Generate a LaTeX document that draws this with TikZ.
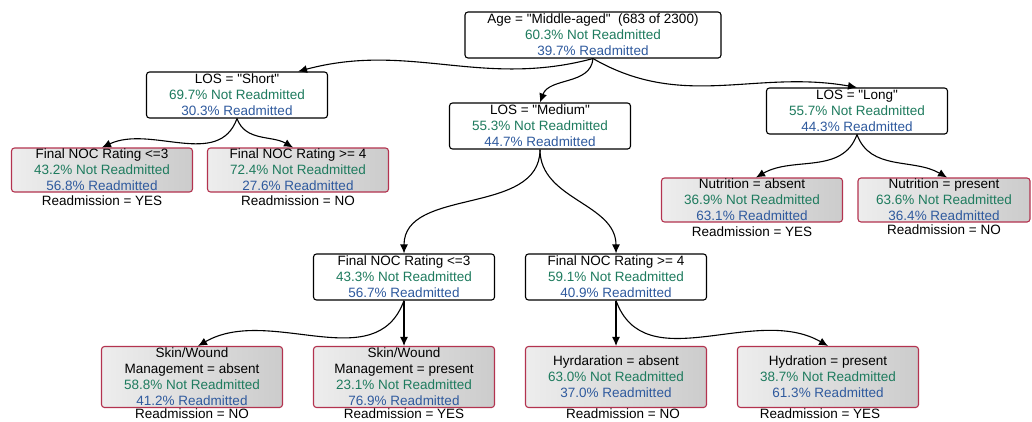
\documentclass[tikz,border=0pt]{standalone}
\usepackage{fontspec}
\setmainfont{Liberation Sans}[Ligatures=TeXOff]
\usetikzlibrary{arrows.meta}
\definecolor{notgreen}{HTML}{1E7B5E}
\definecolor{reblue}{HTML}{2F5A9E}
\definecolor{leafred}{HTML}{B3334F}
\newcommand{\notRe}[1]{\textcolor{notgreen}{#1\% Not Readmitted}}
\newcommand{\yesRe}[1]{\textcolor{reblue}{#1\% Readmitted}}
\tikzset{
  split/.style={draw=black, line width=1.1pt, fill=white, rounded corners=3pt, minimum width=181pt, minimum height=46pt, inner sep=0pt, align=center, font=\fontsize{13.5}{16}\selectfont},
  leaf/.style={split, draw=leafred, left color=gray!14, right color=gray!40, minimum height=44pt},
  verdict/.style={inner sep=0pt, font=\fontsize{13.5}{16}\selectfont},
  branch/.style={black, line width=1.1pt, -{Latex[length=9pt,width=8pt]}}
}
\begin{document}
\begin{tikzpicture}[x=1pt, y=-1pt]
        \useasboundingbox (0,0) rectangle (1032,421);
        %%-root and first split
        \node[split, minimum width=256pt] (root) at (593,35) {Age = "Middle-aged"\ \ (683 of 2300)\\ \notRe{60.3}\\ \yesRe{39.7}};
        \node[split] (short) at (237,95) {LOS = "Short"\\ \notRe{69.7}\\ \yesRe{30.3}};
        \node[split] (medium) at (540,126) {LOS = "Medium"\\ \notRe{55.3}\\ \yesRe{44.7}};
        \node[split] (long) at (857,111) {LOS = "Long"\\ \notRe{55.7}\\ \yesRe{44.3}};

        \draw[branch] (root.south) to[out=195, in=15] ([xshift=-30pt]short.north east);
        \draw[branch] (root.south) to[out=-95, in=70] (medium.north);
        \draw[branch] (root.south) to[out=-30, in=170] (long.north);

        %%-Short
        \node[leaf] (nocsa) at (102,170) {Final NOC Rating <=3\\ \notRe{43.2}\\ \yesRe{56.8}};
        \node[verdict] (vsa) at (102,201) {Readmission = YES};
        \node[leaf] (nocsb) at (298,170) {Final NOC Rating >= 4\\ \notRe{72.4}\\ \yesRe{27.6}};
        \node[verdict] (vsb) at (298,201) {Readmission = NO};
        \draw[branch] (short.south) to[out=-110, in=25] (nocsa.north);
        \draw[branch] (short.south) to[out=-70, in=150] ([xshift=-5pt]nocsb.north);

        %%-Long
        \node[leaf] (nutra) at (752,200) {Nutrition = absent\\ \notRe{36.9}\\ \yesRe{63.1}};
        \node[verdict] (vna) at (752,232) {Readmission = YES};
        \node[leaf, minimum width=172pt] (nutrb) at (944,200) {Nutrition = present\\ \notRe{63.6}\\ \yesRe{36.4}};
        \node[verdict] (vnb) at (944,230) {Readmission = NO};
        \draw[branch] (long.south) to[out=-110, in=30] ([xshift=4pt]nutra.north);
        \draw[branch] (long.south) to[out=-70, in=150] ([xshift=3pt]nutrb.north);

        %%-Medium
        \node[split] (nocma) at (404,277) {Final NOC Rating <=3\\ \notRe{43.3}\\ \yesRe{56.7}};
        \node[split] (nocmb) at (616,277) {Final NOC Rating >= 4\\ \notRe{59.1}\\ \yesRe{40.9}};
        \draw[branch] (medium.south) to[out=-90, in=90] (nocma.north);
        \draw[branch] (medium.south) to[out=-90, in=90] (nocmb.north);

        %%-Skin/Wound and Hydration
        \node[leaf, minimum height=61pt] (skina) at (192,377) {Skin/Wound\\ Management = absent\\ \notRe{58.8}\\ \yesRe{41.2}};
        \node[verdict] (vka) at (192,414) {Readmission = NO};
        \node[leaf, minimum height=61pt] (skinb) at (404,377) {Skin/Wound\\ Management = present\\ \notRe{23.1}\\ \yesRe{76.9}};
        \node[verdict] (vkb) at (404,414) {Readmission = YES};
        \node[leaf, minimum height=61pt] (hyda) at (616,377) {Hyrdaration = absent\\ \notRe{63.0}\\ \yesRe{37.0}};
        \node[verdict] (vha) at (623,414) {Readmission = NO};
        \node[leaf, minimum height=61pt] (hydb) at (828,377) {Hydration = present\\ \notRe{38.7}\\ \yesRe{61.3}};
        \node[verdict] (vhb) at (820,414) {Readmission = YES};

        \draw[branch] (nocma.south) to[out=-110, in=30] ([xshift=6pt]skina.north);
        \draw[branch] (nocma.south) -- (skinb.north);
        \draw[branch] (nocmb.south) -- (hyda.north);
        \draw[branch] (nocmb.south) to[out=-70, in=150] (hydb.north);
      \end{tikzpicture}
\end{document}
